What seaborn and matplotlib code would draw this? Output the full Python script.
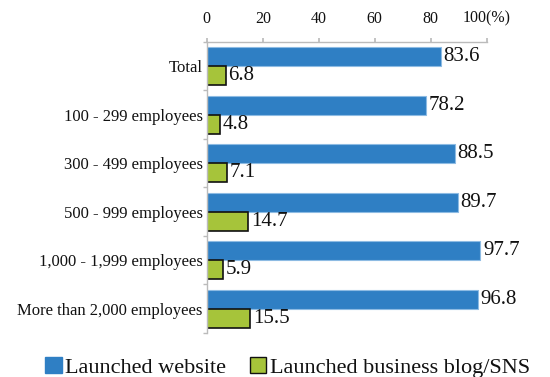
import matplotlib
matplotlib.use("Agg")
import matplotlib.pyplot as plt
import seaborn as sns
import pandas as pd
from matplotlib.patches import Patch

categories = ["Total", "100 - 299 employees", "300 - 499 employees",
              "500 - 999 employees", "1,000 - 1,999 employees",
              "More than 2,000 employees"]
website = [83.6, 78.2, 88.5, 89.7, 97.7, 96.8]
blog_sns = [6.8, 4.8, 7.1, 14.7, 5.9, 15.5]
series_names = ["Launched website", "Launched business blog/SNS"]
x_ticks = [0, 20, 40, 60, 80, 100]
x_tick_labels = ["0", "20", "40", "60", "80", "100(%)"]

df = pd.DataFrame({
    "category": categories * 2,
    "value": website + blog_sns,
    "series": [series_names[0]] * len(categories) + [series_names[1]] * len(categories),
})

sns.set_theme(style="white")
plt.rcParams["font.family"] = ["Liberation Serif", "DejaVu Serif"]

blue = "#2f7fc4"
green = "#a6c43a"
ink = "#111111"

fig = plt.figure(figsize=(5.5, 3.77), dpi=100)
ax = fig.add_axes([0.376, 0.117, 0.509, 0.772])

sns.barplot(data=df, y="category", x="value", hue="series", order=categories,
            hue_order=series_names, palette=[blue, green], saturation=1,
            orient="h", width=0.78, gap=0, ax=ax, legend=False)

# style each series: blue with a light rim, green outlined in black
for container, ec, lw in zip(ax.containers, ["#8dbbe3", ink], [0.8, 1.2]):
    for bar in container:
        bar.set_edgecolor(ec)
        bar.set_linewidth(lw)
    ax.bar_label(container, fmt="%.1f", padding=2, fontsize=15, color=ink)

ax.set_xlim(0, 100)
ax.set_xticks(x_ticks)
ax.set_xticklabels(x_tick_labels, fontsize=11.5, color=ink)
ax.xaxis.tick_top()
ax.tick_params(axis="x", which="both", top=True, length=3, color="#bbbbbb", pad=8)
ax.tick_params(axis="y", labelsize=12, length=0, pad=3, labelcolor=ink)
ax.set_xlabel("")
ax.set_ylabel("")

# tick marks at the category boundaries on the left spine
ax.set_yticks([i + 0.5 for i in range(-1, len(categories))], minor=True)
ax.tick_params(axis="y", which="minor", left=True, length=3, color="#bbbbbb")

for side in ["right", "bottom"]:
    ax.spines[side].set_visible(False)
for side in ["top", "left"]:
    ax.spines[side].set_color("#bbbbbb")
    ax.spines[side].set_linewidth(1.0)
ax.grid(False)

handles = [Patch(facecolor=blue, edgecolor=blue), Patch(facecolor=green, edgecolor=ink)]
leg = fig.legend(handles, series_names, loc="lower center", bbox_to_anchor=(0.523, -0.055),
                 ncol=2, frameon=False, fontsize=16, handlelength=0.75, handleheight=0.75,
                 handletextpad=0.15, columnspacing=1.05)
for t in leg.get_texts():
    t.set_color(ink)

fig.savefig("out.png", dpi=100)
